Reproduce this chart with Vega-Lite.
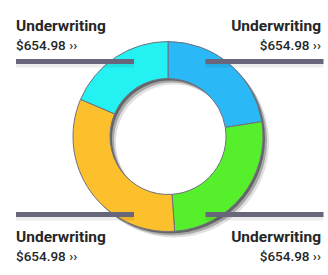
{
  "$schema": "https://vega.github.io/schema/vega-lite/v6.json",
  "width": 328,
  "height": 275,
  "autosize": {"type": "fit", "contains": "padding"},
  "padding": 0,
  "background": "#ffffff",
  "config": {"view": {"stroke": null}},
  "data": {
    "values": [
      {"id": 1, "value": 81, "side": "right", "level": "top", "label": "Underwriting", "amount": "$654.98 ››"},
      {"id": 2, "value": 95, "side": "right", "level": "bottom", "label": "Underwriting", "amount": "$654.98 ››"},
      {"id": 3, "value": 117, "side": "left", "level": "bottom", "label": "Underwriting", "amount": "$654.98 ››"},
      {"id": 4, "value": 67, "side": "left", "level": "top", "label": "Underwriting", "amount": "$654.98 ››"}
    ]
  },
  "layer": [
    {
      "transform": [{"aggregate": [{"op": "sum", "field": "value", "as": "total"}]}],
      "mark": {"type": "arc", "radius": 95, "radius2": 58, "fill": "#000000", "opacity": 0.12, "xOffset": 10, "yOffset": 5},
      "encoding": {"theta": {"field": "total", "type": "quantitative"}}
    },
    {
      "transform": [{"aggregate": [{"op": "sum", "field": "value", "as": "total"}]}],
      "mark": {"type": "arc", "radius": 95, "radius2": 58, "fill": "#000000", "opacity": 0.25, "xOffset": 8, "yOffset": 3},
      "encoding": {"theta": {"field": "total", "type": "quantitative"}}
    },
    {
      "transform": [{"aggregate": [{"op": "sum", "field": "value", "as": "total"}]}],
      "mark": {"type": "arc", "radius": 95, "radius2": 58, "fill": "#000000", "opacity": 0.4, "xOffset": 6, "yOffset": 1},
      "encoding": {"theta": {"field": "total", "type": "quantitative"}}
    },
    {
      "mark": {"type": "arc", "radius": 95, "radius2": 58, "stroke": "#707080", "strokeWidth": 1, "xOffset": 4, "yOffset": -1},
      "encoding": {
        "theta": {"field": "value", "type": "quantitative", "stack": true},
        "order": {"field": "id", "type": "ordinal"},
        "color": {"field": "id", "type": "nominal", "legend": null,
          "scale": {"domain": [1, 2, 3, 4], "range": ["#2bb8f6", "#55ef2c", "#fbc02c", "#24f1f2"]}}
      }
    },
    {
      "mark": {"type": "tick", "orient": "horizontal", "size": 118, "thickness": 4, "color": "#000000", "opacity": 0.07, "yOffset": 4},
      "encoding": {
        "x": {"field": "side", "type": "nominal", "axis": null, "scale": {"type": "point", "padding": 0, "domain": ["left", "right"], "range": [75, 264.5]}},
        "y": {"field": "level", "type": "nominal", "axis": null, "scale": {"type": "point", "padding": 0, "domain": ["top", "bottom"], "range": [61.5, 214.5]}}
      }
    },
    {
      "mark": {"type": "tick", "orient": "horizontal", "size": 118, "thickness": 5, "color": "#67667a", "opacity": 1},
      "encoding": {
        "x": {"field": "side", "type": "nominal", "axis": null, "scale": {"type": "point", "padding": 0, "domain": ["left", "right"], "range": [75, 264.5]}},
        "y": {"field": "level", "type": "nominal", "axis": null, "scale": {"type": "point", "padding": 0, "domain": ["top", "bottom"], "range": [61.5, 214.5]}}
      }
    },
    {
      "transform": [{"filter": "datum.side === 'left'"}],
      "mark": {"type": "text", "align": "left", "baseline": "alphabetic", "font": "Roboto", "fontWeight": "bold", "fontSize": 15.5, "color": "#262626"},
      "encoding": {
        "x": {"field": "side", "type": "nominal", "axis": null, "scale": {"type": "point", "padding": 0, "domain": ["left", "right"], "range": [16, 321]}},
        "y": {"field": "level", "type": "nominal", "axis": null, "scale": {"type": "point", "padding": 0, "domain": ["top", "bottom"], "range": [30.5, 242]}},
        "text": {"field": "label"}
      }
    },
    {
      "transform": [{"filter": "datum.side === 'right'"}],
      "mark": {"type": "text", "align": "right", "baseline": "alphabetic", "font": "Roboto", "fontWeight": "bold", "fontSize": 15.5, "color": "#262626"},
      "encoding": {
        "x": {"field": "side", "type": "nominal", "axis": null, "scale": {"type": "point", "padding": 0, "domain": ["left", "right"], "range": [16, 321]}},
        "y": {"field": "level", "type": "nominal", "axis": null, "scale": {"type": "point", "padding": 0, "domain": ["top", "bottom"], "range": [30.5, 242]}},
        "text": {"field": "label"}
      }
    },
    {
      "transform": [{"filter": "datum.side === 'left'"}],
      "mark": {"type": "text", "align": "left", "baseline": "alphabetic", "font": "Roboto", "fontWeight": 500, "fontSize": 13.5, "dy": 19, "color": "#262626"},
      "encoding": {
        "x": {"field": "side", "type": "nominal", "axis": null, "scale": {"type": "point", "padding": 0, "domain": ["left", "right"], "range": [16, 321]}},
        "y": {"field": "level", "type": "nominal", "axis": null, "scale": {"type": "point", "padding": 0, "domain": ["top", "bottom"], "range": [30.5, 242]}},
        "text": {"field": "amount"}
      }
    },
    {
      "transform": [{"filter": "datum.side === 'right'"}],
      "mark": {"type": "text", "align": "right", "baseline": "alphabetic", "font": "Roboto", "fontWeight": 500, "fontSize": 13.5, "dy": 19, "color": "#262626"},
      "encoding": {
        "x": {"field": "side", "type": "nominal", "axis": null, "scale": {"type": "point", "padding": 0, "domain": ["left", "right"], "range": [16, 321]}},
        "y": {"field": "level", "type": "nominal", "axis": null, "scale": {"type": "point", "padding": 0, "domain": ["top", "bottom"], "range": [30.5, 242]}},
        "text": {"field": "amount"}
      }
    }
  ],
  "resolve": {"scale": {"x": "independent", "y": "independent", "color": "independent", "theta": "independent"}}
}
